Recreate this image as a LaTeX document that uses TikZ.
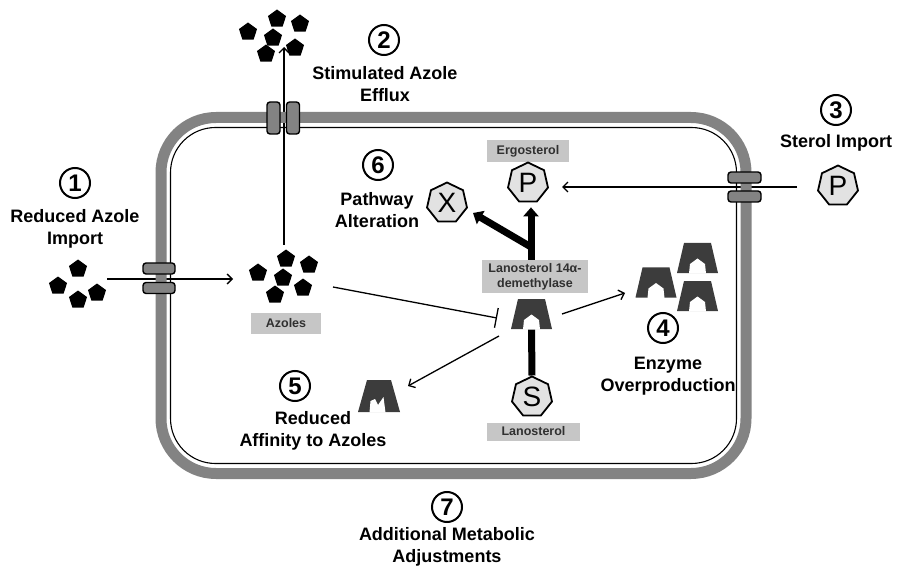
\documentclass[tikz,border=0pt]{standalone}
\usepackage{fontspec}
\setmainfont{Liberation Sans}
\usetikzlibrary{shapes.geometric,arrows.meta,calc}

\definecolor{membrane}{HTML}{838383}
\definecolor{enzymecol}{HTML}{3C3C3C}
\definecolor{tagfill}{HTML}{C6C6C6}
\definecolor{tagtext}{HTML}{303030}
\definecolor{sterolfill}{HTML}{E2E2E2}

\pgfdeclarelayer{bg}
\pgfsetlayers{bg,main}

\tikzset{
  caption/.style={font=\bfseries\fontsize{18}{22}\selectfont, align=center, inner sep=0pt},
  tag/.style={fill=tagfill, text=tagtext, font=\bfseries\fontsize{12.5}{15}\selectfont,
    align=center, inner sep=0pt},
  numcircle/.style={circle, draw=black, line width=2pt, minimum size=30pt, inner sep=0pt,
    font=\bfseries\fontsize{24}{24}\selectfont},
  sterol/.style={regular polygon, regular polygon sides=7, minimum size=41pt, draw=black,
    line width=1.8pt, fill=sterolfill, inner sep=0pt, font=\fontsize{28}{28}\selectfont},
  azole/.style={regular polygon, regular polygon sides=5, minimum size=19pt, fill=black,
    inner sep=0pt},
  channel/.style={draw=black, fill=membrane, line width=1.4pt, rounded corners=3pt,
    inner sep=0pt},
  enzbox/.style={minimum width=41pt, minimum height=30pt, inner sep=0pt},
  thinarrow/.style={line width=1.3pt, -{Straight Barb[length=5pt,width=10pt]}},
  thickarrow/.style={line width=7pt, -{Triangle[length=9pt,width=15pt]}},
  inhibit/.style={line width=1.3pt, -{Bar[width=20pt,line width=1.3pt]}},
  pics/enzyme/.style={code={
    \fill[enzymecol] (-20.5,15) -- (-13.5,-15) -- (13.5,-15) -- (20.5,15) -- cycle;
    \fill[white] (-8.5,15.5) -- (-7.5,6) -- (0,0.5) -- (7.5,6) -- (8.5,15.5) -- cycle;
  }},
  pics/weakenzyme/.style={code={
    \fill[enzymecol] (-21,16) -- (-12,-16) -- (12,-16) -- (21,16) -- cycle;
    \fill[white] (-9.5,16.5) -- (-8.5,5) -- (-4,3) -- (-1,9) -- (4.5,1) -- (6.5,16.5) -- cycle;
  }},
}

\begin{document}
\begin{tikzpicture}[x=1pt,y=-1pt]
\useasboundingbox (0,0) rectangle (898,567);

% cell membrane: grey wall with the thin plasma membrane inside
\draw[membrane, line width=11pt, rounded corners=55pt] (161,117.5) rectangle (746,473.5);
\draw[black, line width=1.1pt, rounded corners=45pt] (170.5,127.5) rectangle (736.5,463.5);

% membrane channels
\node[channel, minimum width=13pt, minimum height=32pt] (effA) at (273.5,118) {};
\node[channel, minimum width=13pt, minimum height=32pt] (effB) at (293,118) {};
\node[channel, minimum width=32pt, minimum height=11pt] (impA) at (159,268.5) {};
\node[channel, minimum width=32pt, minimum height=11pt] (impB) at (159,288) {};
\node[channel, minimum width=33pt, minimum height=11pt] (stA) at (744.5,177.5) {};
\node[channel, minimum width=33pt, minimum height=11pt] (stB) at (744.5,196.5) {};

% azoles pumped out of the cell
\node[azole] (out1) at (248,32) {};
\node[azole] (out2) at (277,19) {};
\node[azole] (out3) at (300,24) {};
\node[azole] (out4) at (273,38) {};
\node[azole] (out5) at (295,48) {};
\node[azole] (out6) at (266,54) {};

% azoles outside the cell
\node[azole] (ext1) at (78,269) {};
\node[azole] (ext2) at (58,286) {};
\node[azole] (ext3) at (97,293) {};
\node[azole] (ext4) at (78,300) {};

% azoles inside the cell
\node[azole] (in1) at (286,259) {};
\node[azole] (in2) at (309,265) {};
\node[azole] (in3) at (258,273) {};
\node[azole] (in4) at (283,278) {};
\node[azole] (in5) at (303,288) {};
\node[azole] (in6) at (275,295) {};
\node[tag, minimum width=70pt, minimum height=21pt] (tagAz) at (286,323.5) {Azoles};

% ergosterol pathway
\node[tag, minimum width=82pt, minimum height=22pt] (tagErg) at (528,151.5) {Ergosterol};
\node[sterol] (P) at (528,183) {P};
\node[sterol] (X) at (447,203) {X};
\node[tag, minimum width=106pt, minimum height=33pt] (tagEnz) at (535,276.5)
  {Lanosterol 14α-\\demethylase};
\node[enzbox] (enz) at (531.5,314) {};
\pic at (enz) {enzyme};
\node[sterol] (S) at (532,397) {S};
\node[tag, minimum width=93pt, minimum height=18pt] (tagLan) at (533.5,431.5) {Lanosterol};

% imported sterol
\node[sterol] (Pext) at (838,186) {P};

% overproduced enzyme
\node[enzbox] (ov1) at (656,282.5) {};
\node[enzbox] (ov2) at (697.5,258) {};
\node[enzbox] (ov3) at (697.5,296) {};
\pic at (ov1) {enzyme};
\pic at (ov2) {enzyme};
\pic at (ov3) {enzyme};

% enzyme with altered binding pocket
\node[enzbox, minimum height=32pt, minimum width=42pt] (weak) at (379,396) {};
\pic at (weak) {weakenzyme};

% numbered mechanisms
\node[numcircle] (n1) at (75,183) {1};
\node[caption] (c1) at (75,229) {Reduced Azole\\Import};
\node[numcircle] (n2) at (384,40) {2};
\node[caption] (c2) at (385,84) {Stimulated Azole\\Efflux};
\node[numcircle] (n3) at (836,110) {3};
\node[caption] (c3) at (836,143) {Sterol Import};
\node[numcircle] (n4) at (663,328) {4};
\node[caption] (c4) at (668,376) {Enzyme\\Overproduction};
\node[numcircle] (n5) at (295,386) {5};
\node[caption] (c5) at (313,431) {Reduced\\Affinity to Azoles};
\node[numcircle] (n6) at (378,165) {6};
\node[caption] (c6) at (377,210) {Pathway\\Alteration};
\node[numcircle] (n7) at (447,507) {7};
\node[caption] (c7) at (447,547) {Additional Metabolic\\Adjustments};

% free ends of the connectors
\coordinate (impS) at (107,279);
\coordinate (impE) at (233,279);
\coordinate (effS) at (284,245);
\coordinate (effE) at (284,47);
\coordinate (stS) at (797,187);
\coordinate (stE) at (562,187);
\coordinate (inhS) at (333,287);
\coordinate (inhE) at (497,318);
\coordinate (ovS) at (562,314);
\coordinate (ovE) at (625,293);
\coordinate (afS) at (499,336);
\coordinate (afE) at (408,386);
\coordinate (fork) at (531,247);

\begin{pgfonlayer}{bg}
  \draw[thinarrow] (impS) -- (impE);
  \draw[thinarrow] (effS) -- (effE);
  \draw[thinarrow] (stS) -- (stE);
  \draw[inhibit] (inhS) -- (inhE);
  \draw[thinarrow] (ovS) -- (ovE);
  \draw[thinarrow] (afS) -- (afE);
  \draw[line width=7pt] (S.north) -- (enz.south);
  \draw[thickarrow, shorten >=5pt] (tagEnz.north -| fork) -- (fork |- P.south);
  \draw[thickarrow] (fork) -- (473,213);
\end{pgfonlayer}
\end{tikzpicture}
\end{document}
